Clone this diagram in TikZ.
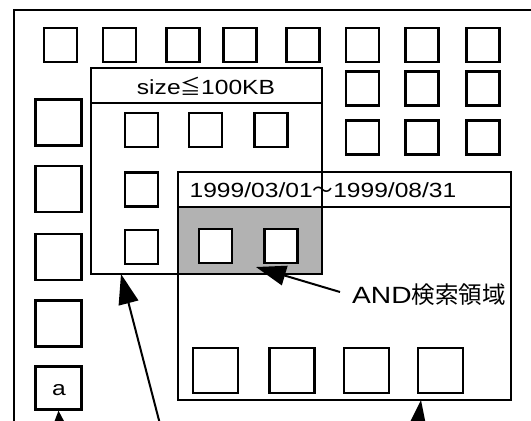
\documentclass[tikz,border=0pt]{standalone}
\usepackage{fontspec}
\setmainfont{Liberation Sans}[FakeStretch=1.2]
\newfontfamily\cjk{Noto Sans CJK JP}
\usetikzlibrary{arrows.meta}
\begin{document}
\begin{tikzpicture}[x=1pt,y=-1pt,line width=2.2pt,
  smallsq/.style={draw,fill=white,minimum width=33pt,minimum height=34pt,inner sep=0pt},
  bigsq/.style={draw,fill=white,minimum width=46pt,minimum height=46pt,inner sep=0pt},
  lbl/.style={inner sep=0pt,font=\fontsize{20.5}{24}\selectfont},
  bigarrow/.style={-{Triangle[length=30pt,width=20pt]},line width=2pt},
  smallarrow/.style={-{Triangle[length=14pt,width=12pt]},line width=2pt}]
\useasboundingbox (0,0) rectangle (531,421);
\fill[white] (0,0) rectangle (531,421);
% outer frame
\draw (14,440) -- (14,10) -- (545,10);
% gray AND region
\fill[black!30] (178,207) rectangle (322,274);
% size box
\draw (91,68) rectangle (322,274);
\draw (91,103) -- (322,103);
\node[lbl] (sizetxt) at (206,86) {size{\cjk ≦}100KB};
% date box
\draw (178,172) rectangle (511,400);
\draw (178,207) -- (511,207);
\draw (322,172) -- (322,207);
\node[lbl] (datetxt) at (323,190) {1999/03/01{\cjk ～}1999/08/31};
% top row
\foreach \x [count=\i] in {60.5,119.5,183,240,303,362.5,422,483}
  \node[smallsq] (t\i) at (\x,45) {};
% right columns rows
\foreach \x [count=\i] in {362.5,422,483} {
  \node[smallsq] (r\i) at (\x,88.5) {};
  \node[smallsq] (s\i) at (\x,137.5) {};
}
% left column
\foreach \y [count=\i] in {122.5,189,257,323.5}
  \node[bigsq] (l\i) at (58.5,\y) {};
\node[bigsq,minimum height=43pt] (abox) at (58.5,388) {};
\node[lbl] (atxt) at (59,390) {a};
% size box inner squares
\foreach \x [count=\i] in {141.5,205.5,271}
  \node[smallsq] (z\i) at (\x,130) {};
\node[smallsq] (z4) at (141.5,189.5) {};
\node[smallsq] (z5) at (141.5,247) {};
% gray squares
\node[smallsq] (g1) at (215.5,246) {};
\node[smallsq] (g2) at (281,246) {};
% bottom squares
\foreach \x [count=\i] in {215.5,292,366.5,440.5}
  \node[bigsq,minimum width=45pt,minimum height=45pt] (b\i) at (\x,370.5) {};
% AND label
\node[inner sep=0pt,anchor=west,font=\fontsize{23.5}{27}\selectfont] (andtxt) at (351,295) {AND{\cjk 検索領域}};
% arrows
\coordinate (andstart) at (340,292);
\coordinate (andtip) at (256,267);
\draw[bigarrow] (andstart) -- (andtip);
\coordinate (s1start) at (161,428);
\coordinate (s1tip) at (121,274);
\draw[bigarrow] (s1start) -- (s1tip);
\coordinate (s2start) at (415,445);
\coordinate (s2tip) at (421,400);
\draw[bigarrow] (s2start) -- (s2tip);
\coordinate (astart) at (60,435);
\draw[smallarrow] (astart) -- (abox.south);
\end{tikzpicture}
\end{document}
